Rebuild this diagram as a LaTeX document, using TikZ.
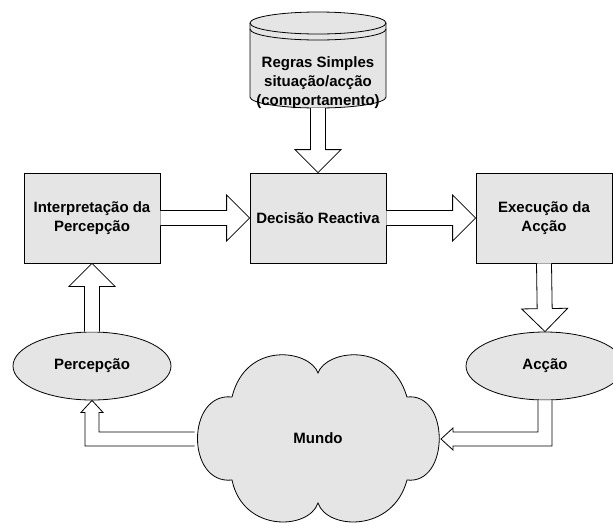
\documentclass[tikz,border=0pt]{standalone}
\usepackage{fontspec}
\setmainfont{Liberation Sans}
\usetikzlibrary{calc,shapes.geometric}
\definecolor{shapegray}{RGB}{229,229,229}
\tikzset{
  lbl/.style={font=\bfseries\fontsize{15}{19}\selectfont, align=center},
  boxnode/.style={lbl, draw=black, fill=shapegray, line width=0.8pt, minimum width=136pt, minimum height=90pt, inner sep=0pt},
  ellnode/.style={lbl, ellipse, draw=black, fill=shapegray, line width=0.8pt, minimum width=158pt, minimum height=68pt, inner sep=0pt},
  shapeline/.style={draw=black, fill=shapegray, line width=0.8pt},
  barrow/.style={draw=black, fill=white, line width=0.8pt, line join=miter}
}
% #1 from, #2 tip, #3 shaft half width, #4 head half width, #5 head length
\newcommand{\blockarrow}[5]{%
  \coordinate (ba-h) at ($(#2)!#5!(#1)$);
  \draw[barrow] ($(#1)!#3!90:(#2)$) -- ($(ba-h)!#3!90:(#2)$) -- ($(ba-h)!#4!90:(#2)$) -- (#2)
    -- ($(ba-h)!#4!-90:(#2)$) -- ($(ba-h)!#3!-90:(#2)$) -- ($(#1)!#3!-90:(#2)$);
}
\begin{document}
\begin{tikzpicture}[x=1pt,y=-1pt]
\useasboundingbox (0,0) rectangle (613,523);
\clip (0,0) rectangle (613,523);

% cylinder (rules)
\path[shapeline] (250,23) -- (250,97)
  .. controls (250,103.07) and (280.45,108) .. (318,108)
  .. controls (355.55,108) and (386,103.07) .. (386,97)
  -- (386,23)
  .. controls (386,16.93) and (355.55,12) .. (318,12)
  .. controls (280.45,12) and (250,16.93) .. (250,23) -- cycle;
\draw[line width=0.8pt] (250,23) .. controls (250,29.07) and (280.45,34) .. (318,34)
  .. controls (355.55,34) and (386,29.07) .. (386,23);
\draw[line width=0.8pt] (250,29) .. controls (250,35.07) and (280.45,40) .. (318,40)
  .. controls (355.55,40) and (386,35.07) .. (386,29);
\node[lbl] (regras) at (318,82.5) {Regras Simples\\situação/acção\\(comportamento)};
\coordinate (regrasS) at (318,108);

% boxes
\node[boxnode] (interp) at (92,218) {Interpretação da\\Percepção};
\node[boxnode] (decisao) at (318,218) {Decisão Reactiva};
\node[boxnode] (exec) at (544,218) {Execução da\\Acção};

% ellipses
\node[ellnode] (perc) at (92,366) {Percepção};
\node[ellnode] (accao) at (545,366) {Acção};

% cloud
\path[shapeline] (318,373) .. controls (326,350) and (390,340) .. (407,397)
  .. controls (450,392) and (450,485) .. (407,480)
  .. controls (393,533) and (327,530) .. (318,503)
  .. controls (309,530) and (243,533) .. (232,480)
  .. controls (186,485) and (186,392) .. (232,397)
  .. controls (246,340) and (310,350) .. (318,373) -- cycle;
\node[lbl] (mundo) at (318,438) {Mundo};
\coordinate (mundoW) at (194.5,439);
\coordinate (mundoE) at (441,439);

% block arrows
\blockarrow{regrasS}{decisao.north}{7.5pt}{23pt}{23pt}
\blockarrow{interp.east}{decisao.west}{7.5pt}{23pt}{23pt}
\blockarrow{decisao.east}{exec.west}{7.5pt}{23pt}{23pt}
\blockarrow{exec.south}{accao.north}{7.5pt}{23pt}{23pt}
\blockarrow{perc.north}{interp.south}{7.5pt}{23pt}{23pt}

% elbow arrows
\draw[barrow] let \p1=(perc.south), \p2=(mundoW) in
  (\x2,\y2+7pt) -- (\x1+7pt,\y2+7pt) -- (\x1+7pt,\y1-12pt) -- (\x1+11pt,\y1-12pt) -- (\p1)
  -- (\x1-11pt,\y1-12pt) -- (\x1-7pt,\y1-12pt) -- (\x1-7pt,\y2-7pt) -- (\x2,\y2-7pt);
\draw[barrow] let \p1=(accao.south), \p2=(mundoE) in
  (\x1-7pt,\y1) -- (\x1-7pt,\y2+7pt) -- (\x2+12pt,\y2+7pt) -- (\x2+12pt,\y2+11pt) -- (\p2)
  -- (\x2+12pt,\y2-11pt) -- (\x2+12pt,\y2-7pt) -- (\x1+7pt,\y2-7pt) -- (\x1+7pt,\y1);
\end{tikzpicture}
\end{document}
